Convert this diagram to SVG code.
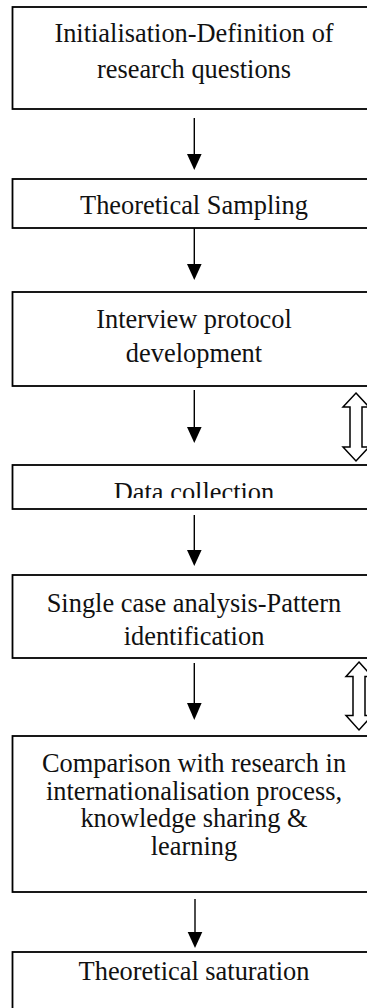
<svg xmlns="http://www.w3.org/2000/svg" width="367" height="1008" viewBox="0 0 367 1008">
<style>
.box{fill:#fff;stroke:#000;stroke-width:1.8}
.t{font-family:"Liberation Serif","Times New Roman",serif;font-size:26.4px;fill:#111;text-anchor:middle}
.ln{stroke:#000;stroke-width:1.4;fill:none}
.hd{fill:#000}
.da{fill:#fff;stroke:#000;stroke-width:1.5;stroke-linejoin:miter}
</style>
<defs>
<clipPath id="clipData"><rect x="12" y="465" width="370" height="33"/></clipPath>
</defs>
<rect width="367" height="1008" fill="#fff"/>
<g id="n1">
<rect class="box" x="12.5" y="7" width="363" height="102"/>
<text class="t" x="194" y="41.7">Initialisation-Definition of</text>
<text class="t" x="194" y="78.3">research questions</text>
</g>
<g id="n2">
<rect class="box" x="12.5" y="179" width="363" height="49"/>
<text class="t" x="194" y="214">Theoretical Sampling</text>
</g>
<g id="n3">
<rect class="box" x="12.5" y="292" width="363" height="94"/>
<text class="t" x="194" y="328">Interview protocol</text>
<text class="t" x="194" y="362">development</text>
</g>
<g id="n4">
<rect class="box" x="12.5" y="465" width="363" height="44"/>
<text class="t" x="194" y="500.8" clip-path="url(#clipData)">Data collection</text>
</g>
<g id="n5">
<rect class="box" x="12.5" y="575" width="363" height="83"/>
<text class="t" x="194" y="612">Single case analysis-Pattern</text>
<text class="t" x="194" y="645">identification</text>
</g>
<g id="n6">
<rect class="box" x="12.5" y="736" width="363" height="156"/>
<text class="t" x="194" y="772">Comparison with research in</text>
<text class="t" x="194" y="800">internationalisation process,</text>
<text class="t" x="194" y="827">knowledge sharing &amp;</text>
<text class="t" x="194" y="855">learning</text>
</g>
<g id="n7">
<rect class="box" x="12.5" y="952" width="363" height="70"/>
<text class="t" x="194" y="980">Theoretical saturation</text>
</g>
<g id="connectors">
<line class="ln" x1="194.3" y1="118" x2="194.3" y2="156"/>
<polygon class="hd" points="187,154 201.6,154 194.3,170"/>
<line class="ln" x1="194.3" y1="228" x2="194.3" y2="266"/>
<polygon class="hd" points="187,264 201.6,264 194.3,280"/>
<line class="ln" x1="194.3" y1="390" x2="194.3" y2="429"/>
<polygon class="hd" points="187,427 201.6,427 194.3,443"/>
<line class="ln" x1="194.3" y1="515" x2="194.3" y2="552"/>
<polygon class="hd" points="187,550 201.6,550 194.3,566"/>
<line class="ln" x1="194.3" y1="663" x2="194.3" y2="705"/>
<polygon class="hd" points="187,703 201.6,703 194.3,720"/>
<line class="ln" x1="195" y1="899" x2="195" y2="934"/>
<polygon class="hd" points="187.7,932 202.3,932 195,948"/>
<polygon class="da" points="356,393 369,407 362,407 362,447 369,447 356,461 343,447 350,447 350,407 343,407"/>
<polygon class="da" points="359,662 372,676.5 365,676.5 365,715.5 372,715.5 359,730 346,715.5 353,715.5 353,676.5 346,676.5"/>
</g>
</svg>
